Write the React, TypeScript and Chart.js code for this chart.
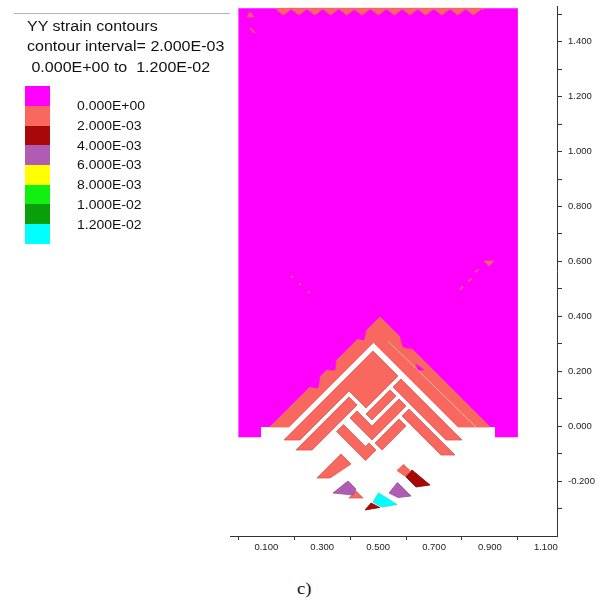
import React, { useEffect, useRef } from 'react';
import { Chart, registerables } from 'chart.js';

Chart.register(...registerables);

type Pt = [number, number];

// ---------- axis ticks ----------
const xTickValues = [0, 0.1, 0.2, 0.3, 0.4, 0.5, 0.6, 0.7, 0.8, 0.9, 1.0, 1.1];
const xTickLabels = ['', '0.100', '', '0.300', '', '0.500', '', '0.700', '', '0.900', '', '1.100'];
const yTickValues = [-0.3, -0.2, -0.1, 0, 0.1, 0.2, 0.3, 0.4, 0.5, 0.6, 0.7, 0.8, 0.9, 1.0, 1.1, 1.2, 1.3, 1.4, 1.5];
const yTickLabels = ['', '-0.200', '', '0.000', '', '0.200', '', '0.400', '', '0.600', '', '0.800', '', '1.000', '', '1.200', '', '1.400', ''];

// ---------- legend ----------
const titleLines = ['YY strain contours', 'contour interval= 2.000E-03', ' 0.000E+00 to  1.200E-02'];
const legendLevels = ['0.000E+00', '2.000E-03', '4.000E-03', '6.000E-03', '8.000E-03', '1.000E-02', '1.200E-02'];
const legendColors = ['#ff00ff', '#f8685f', '#a80808', '#b05cb2', '#ffff00', '#12f012', '#0a9e0a', '#00ffff'];

const MAGENTA = legendColors[0];
const SALMON = legendColors[1];
const DARKRED = legendColors[2];
const PURPLE = legendColors[3];
const CYAN = legendColors[7];

// ---------- contour regions (x, y in model units) ----------
const zeroLevelRegion: Pt[] = [
  [0, 1.522], [1.0, 1.522], [1.0, -0.0406], [0.918, -0.0406], [0.918, -0.0031],
  [0.9003, -0.0031], [0.5067, 0.3975], [0.1131, -0.0031], [0.0809, -0.0031],
  [0.0809, -0.0406], [0, -0.0406],
];
const outerChevron: Pt[] = [
  [0.5067, 0.3975], [0.9003, -0.0031], [0.7858, -0.0031], [0.4835, 0.3046], [0.1811, -0.0031], [0.1131, -0.0031],
];
const outerChevronStreak: Pt[] = [[0.5353, 0.3099], [0.8500, -0.0033]];
const zeroNotches: Pt[][] = [
  [[0.5783, 0.3247], [0.6212, 0.2809], [0.5890, 0.2882]],
  [[0.6355, 0.2263], [0.6642, 0.2045], [0.6427, 0.2045]],
  [[0.2563, 0.1426], [0.2920, 0.1790], [0.2849, 0.1389]],
  [[0.3171, 0.2045], [0.3493, 0.2372], [0.3457, 0.2045]],
  [[0.4280, 0.3174], [0.4566, 0.3465], [0.4495, 0.3137]],
];
const blockAndLeftArmB: Pt[] = [
  [0.4817, 0.2737], [0.5711, 0.1826], [0.4566, 0.0661], [0.3958, 0.1280], [0.2205, -0.0504], [0.1632, -0.0504],
];
const rightArmB: Pt[] = [[0.5819, 0.1717], [0.8001, -0.0504], [0.7429, -0.0504], [0.5532, 0.1426]];
const leftArmC: Pt[] = [[0.3958, 0.1062], [0.4244, 0.0770], [0.2634, -0.0869], [0.2062, -0.0869]];
const rightArmC: Pt[] = [[0.6105, 0.0625], [0.7751, -0.1051], [0.7250, -0.1051], [0.5854, 0.0370]];
const stripS1: Pt[] = [[0.5425, 0.1316], [0.5640, 0.1098], [0.4781, 0.0224], [0.4566, 0.0442]];
const valleyUpper: Pt[] = [
  [0.4244, 0.0552], [0.4781, 0.0005], [0.5747, 0.0989], [0.5998, 0.0734], [0.4781, -0.0504], [0.3994, 0.0297],
];
const stripS2: Pt[] = [[0.5747, 0.0260], [0.5998, 0.0005], [0.5139, -0.0869], [0.4888, -0.0614]];
const valleyLower: Pt[] = [
  [0.3761, 0.0060], [0.4548, -0.0741], [0.4674, -0.0614], [0.4924, -0.0869], [0.4548, -0.1251], [0.3511, -0.0195],
];
const lowerBand: Pt[] = [[0.2813, -0.1888], [0.3672, -0.1014], [0.4030, -0.1378], [0.3278, -0.1888]];
const salmonTipRight: Pt[] = [[0.5675, -0.1615], [0.5908, -0.1397], [0.6141, -0.1615], [0.6015, -0.1852]];
const salmonTipLeft: Pt[] = [[0.3958, -0.2616], [0.4208, -0.2362], [0.4459, -0.2616]];
const purpleLeft: Pt[] = [[0.3386, -0.2434], [0.3922, -0.1997], [0.4208, -0.2289], [0.4101, -0.2507]];
const purpleRight: Pt[] = [[0.5389, -0.2434], [0.5693, -0.2052], [0.6176, -0.2544], [0.5711, -0.2598]];
const darkRedRight: Pt[] = [[0.5998, -0.1852], [0.6212, -0.1597], [0.6856, -0.2143], [0.6355, -0.2216]];
const darkRedBottom: Pt[] = [[0.4530, -0.3053], [0.4745, -0.2798], [0.5067, -0.2962]];
const cyanPatch: Pt[] = [[0.4817, -0.2762], [0.5014, -0.2434], [0.5675, -0.2853], [0.5139, -0.2944]];

// saw-tooth of small 2E-03 cells under the top edge
const topTeethX = [0.161, 0.217, 0.274, 0.330, 0.388, 0.443, 0.501, 0.558, 0.614, 0.670, 0.728, 0.785, 0.841];
const topStripStartEnd = [0.142, 0.876];
const topEdgeY = 1.522;
const topStripY = 1.517;
const topTeethTipY = 1.497;
const TEETH_HALF = 0.026;

const smallCells: Pt[][] = [
  [[0.0308, 1.4899], [0.0416, 1.5081], [0.0559, 1.4899]],
  [[0.8788, 0.6014], [0.9146, 0.6014], [0.8967, 0.5832]],
];
const smallDashes: Pt[][] = [
  [[0.0416, 1.4498], [0.0595, 1.4316]],
  [[0.7930, 0.4980], [0.8040, 0.5085]],
  [[0.8230, 0.5270], [0.8340, 0.5375]],
  [[0.8470, 0.5600], [0.8580, 0.5705]],
];
const smallDots: Pt[] = [[0.1908, 0.5442], [0.2205, 0.5166], [0.2527, 0.4874]];

const FONT = "'Liberation Sans', Arial, Helvetica, sans-serif";

function buildTeeth(): Pt[] {
  const pts: Pt[] = [[topStripStartEnd[0], topEdgeY], [topStripStartEnd[0], topStripY]];
  for (const x of topTeethX) {
    pts.push([x - TEETH_HALF, topStripY], [x, topTeethTipY], [x + TEETH_HALF, topStripY]);
  }
  pts.push([topStripStartEnd[1], topStripY], [topStripStartEnd[1], topEdgeY]);
  return pts;
}

export default function App() {
  const ref = useRef<HTMLCanvasElement | null>(null);

  useEffect(() => {
    if (!ref.current) return;
    const toXY = (p: Pt[]) => p.map(([x, y]) => ({ x, y }));
    const poly = (pts: Pt[], fill: string, stroke: string, width: number) => ({
      data: toXY([...pts, pts[0]]),
      showLine: true,
      fill: 'shape',
      backgroundColor: fill,
      borderColor: stroke,
      borderWidth: width,
      pointRadius: 0,
      tension: 0,
    });
    const line = (pts: Pt[], color: string, width: number) => ({
      data: toXY(pts),
      showLine: true,
      fill: false,
      borderColor: color,
      borderWidth: width,
      pointRadius: 0,
      tension: 0,
    });
    const EDGE = '#e4564d';
    const list: any[] = [
      poly(zeroLevelRegion, MAGENTA, MAGENTA, 0),
      poly(outerChevron, SALMON, SALMON, 0.8),
      line(outerChevronStreak, '#fbb2a8', 1),
      ...zeroNotches.map((n) => poly(n, MAGENTA, MAGENTA, 0.5)),
      poly(blockAndLeftArmB, SALMON, EDGE, 0.8),
      poly(rightArmB, SALMON, EDGE, 0.8),
      poly(leftArmC, SALMON, EDGE, 0.8),
      poly(rightArmC, SALMON, EDGE, 0.8),
      poly(stripS1, SALMON, EDGE, 0.8),
      poly(valleyUpper, SALMON, EDGE, 0.8),
      poly(stripS2, SALMON, EDGE, 0.8),
      poly(valleyLower, SALMON, EDGE, 0.8),
      poly(lowerBand, SALMON, EDGE, 0.8),
      poly(salmonTipRight, SALMON, EDGE, 0.8),
      poly(salmonTipLeft, SALMON, EDGE, 0.8),
      poly(purpleLeft, PURPLE, '#9a4a9c', 0.8),
      poly(purpleRight, PURPLE, '#9a4a9c', 0.8),
      poly(darkRedRight, DARKRED, '#8a0000', 0.8),
      poly(darkRedBottom, DARKRED, '#8a0000', 0.8),
      poly(cyanPatch, CYAN, '#10dede', 0.8),
      poly(buildTeeth(), SALMON, SALMON, 0.5),
      ...smallCells.map((c) => poly(c, SALMON, SALMON, 0.5)),
      ...smallDashes.map((d) => line(d, SALMON, 1.6)),
      {
        data: toXY(smallDots),
        showLine: false,
        pointRadius: 1.4,
        pointStyle: 'rect',
        backgroundColor: SALMON,
        borderWidth: 0,
      },
    ];
    const n = list.length;
    const datasets = list.map((d, i) => ({ ...d, order: n - i }));

    const chart = new Chart(ref.current, {
      type: 'line',
      data: { datasets },
      options: {
        responsive: false,
        animation: false,
        events: [],
        layout: { padding: { left: 230, top: 6, right: 0, bottom: 0 } },
        plugins: { legend: { display: false }, tooltip: { enabled: false } },
        scales: {
          x: {
            type: 'linear',
            position: 'bottom',
            min: -0.03,
            max: 1.14,
            afterBuildTicks: (s: any) => {
              s.ticks = xTickValues.map((v) => ({ value: v }));
            },
            afterFit: (s: any) => {
              s.height = 24;
              s.paddingLeft = 0;
              s.paddingRight = 0;
            },
            grid: {
              drawOnChartArea: false,
              drawTicks: true,
              tickLength: 4,
              tickWidth: 1,
              tickColor: (ctx: any) => (xTickLabels[ctx.index] === '' ? '#333' : 'rgba(0,0,0,0)'),
            },
            border: { display: true, color: '#333', width: 1 },
            ticks: {
              autoSkip: false,
              maxRotation: 0,
              padding: 2,
              color: '#222',
              font: { family: FONT, size: 9.5 },
              callback: (_v: any, i: number) => xTickLabels[i],
            },
          },
          y: {
            type: 'linear',
            position: 'right',
            min: -0.4,
            max: 1.53,
            afterBuildTicks: (s: any) => {
              s.ticks = yTickValues.map((v) => ({ value: v }));
            },
            afterFit: (s: any) => {
              s.width = 51;
              s.paddingTop = 0;
              s.paddingBottom = 0;
            },
            grid: {
              drawOnChartArea: false,
              drawTicks: true,
              tickLength: 5,
              tickWidth: 1,
              tickColor: '#333',
            },
            border: { display: true, color: '#333', width: 1 },
            ticks: {
              autoSkip: false,
              padding: 6,
              color: '#222',
              font: { family: FONT, size: 9.5 },
              callback: (_v: any, i: number) => yTickLabels[i],
            },
          },
        },
      } as any,
    });
    return () => chart.destroy();
  }, []);

  const swatchTops = [86, 106, 126, 145, 165, 185, 204, 224, 244];

  return (
    <div style={{ position: 'fixed', left: 0, top: 0, width: 608, height: 604, background: '#fff', overflow: 'hidden' }}>
      <canvas ref={ref} width={608} height={560} style={{ position: 'absolute', left: 0, top: 0 }} />
      <div style={{ position: 'absolute', left: 14, top: 13, width: 216, height: 1, background: '#b4b4b4' }} />
      {titleLines.map((t, i) => (
        <div
          key={t}
          style={{
            position: 'absolute',
            left: 27,
            top: 18 + i * 20.3,
            fontFamily: FONT,
            fontSize: 14,
            lineHeight: '16px',
            color: '#111',
            whiteSpace: 'pre',
            transform: 'scaleX(1.145)',
            transformOrigin: 'left center',
          }}
        >
          {t}
        </div>
      ))}
      {legendColors.map((c, i) => (
        <div
          key={c}
          style={{
            position: 'absolute',
            left: 25,
            top: swatchTops[i],
            width: 25,
            height: swatchTops[i + 1] - swatchTops[i],
            background: c,
          }}
        />
      ))}
      {legendLevels.map((t, i) => (
        <div
          key={t}
          style={{
            position: 'absolute',
            left: 77,
            top: 99.1 + i * 19.75,
            fontFamily: FONT,
            fontSize: 12.5,
            lineHeight: '14px',
            color: '#111',
            whiteSpace: 'pre',
            transform: 'scaleX(1.12)',
            transformOrigin: 'left center',
          }}
        >
          {t}
        </div>
      ))}
      <div
        style={{
          position: 'absolute',
          left: 297,
          top: 580,
          fontFamily: "'Liberation Serif', 'Times New Roman', serif",
          fontSize: 16,
          lineHeight: '18px',
          color: '#111',
          transform: 'scaleX(1.16)',
          transformOrigin: 'left center',
        }}
      >
        c)
      </div>
    </div>
  );
}
